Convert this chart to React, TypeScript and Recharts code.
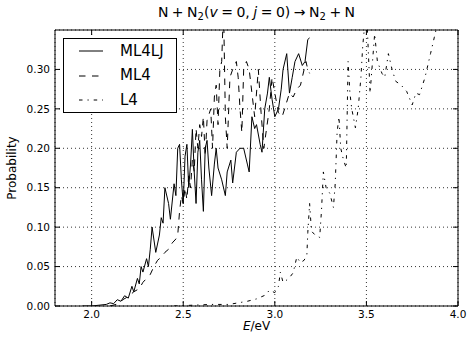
import React from "react";
import { LineChart, Line, XAxis, YAxis, CartesianGrid, Legend } from "recharts";

const xTicks = [2.0, 2.5, 3.0, 3.5, 4.0];
const yTicks = [0, 0.05, 0.1, 0.15, 0.2, 0.25, 0.3];

// ML4LJ (solid)
const ml4ljE = [
  1.95, 2.0, 2.04, 2.08, 2.1, 2.12, 2.14, 2.16, 2.18, 2.2, 2.22, 2.23, 2.25, 2.26, 2.27, 2.28,
  2.3, 2.31, 2.32, 2.33, 2.35, 2.37, 2.38, 2.39, 2.4, 2.42, 2.43, 2.45, 2.46, 2.47, 2.48, 2.49,
  2.5, 2.51, 2.52, 2.53, 2.54, 2.55, 2.56, 2.57, 2.58, 2.59, 2.6, 2.61, 2.62, 2.63, 2.64, 2.655,
  2.67, 2.68, 2.69, 2.71, 2.73, 2.74, 2.76, 2.77, 2.79, 2.81, 2.83, 2.85, 2.86, 2.875, 2.89, 2.9,
  2.92, 2.93, 2.945, 2.96, 2.97, 2.985, 3.0, 3.02, 3.035, 3.045, 3.065, 3.08, 3.095, 3.11, 3.13,
  3.15, 3.165, 3.18, 3.19,
];
const ml4ljP = [
  0, 0, 0.001, 0.002, 0.004, 0.003, 0.008, 0.006, 0.013, 0.01, 0.025, 0.018, 0.035, 0.028, 0.05, 0.043,
  0.06, 0.05, 0.072, 0.1, 0.068, 0.09, 0.112, 0.105, 0.15, 0.13, 0.11, 0.155, 0.14, 0.2, 0.205, 0.16,
  0.13, 0.19, 0.205, 0.15, 0.18, 0.224, 0.17, 0.13, 0.195, 0.21, 0.16, 0.12, 0.2, 0.21, 0.175, 0.14,
  0.18, 0.2, 0.175, 0.16, 0.14, 0.17, 0.185, 0.156, 0.195, 0.2, 0.2, 0.18, 0.17, 0.24, 0.225, 0.23,
  0.205, 0.195, 0.25, 0.27, 0.29, 0.262, 0.24, 0.25, 0.275, 0.3, 0.32, 0.27, 0.29, 0.31, 0.32,
  0.305, 0.31, 0.338, 0.34,
];

// ML4 (dashed)
const ml4E = [
  2.1, 2.15, 2.17, 2.2, 2.23, 2.26, 2.28, 2.3, 2.32, 2.34, 2.36, 2.38, 2.4, 2.42, 2.44, 2.46,
  2.47, 2.48, 2.49, 2.5, 2.51, 2.52, 2.53, 2.54, 2.55, 2.56, 2.57, 2.58, 2.59, 2.6, 2.61, 2.62,
  2.63, 2.65, 2.66, 2.67, 2.68, 2.69, 2.7, 2.71, 2.72, 2.73, 2.74, 2.755, 2.77, 2.79, 2.8, 2.81,
  2.82, 2.83, 2.845, 2.86, 2.875, 2.89, 2.91, 2.925, 2.94, 2.97, 2.985, 3.0, 3.02, 3.04, 3.06,
  3.08, 3.1, 3.12, 3.14, 3.16, 3.17, 3.18, 3.19,
];
const ml4P = [
  0, 0.003, 0.008, 0.012, 0.018, 0.022, 0.03, 0.035, 0.04, 0.05, 0.058, 0.062, 0.068, 0.072, 0.08, 0.085,
  0.09, 0.12, 0.14, 0.13, 0.15, 0.135, 0.165, 0.15, 0.186, 0.17, 0.225, 0.2, 0.23, 0.215, 0.24, 0.19,
  0.235, 0.25, 0.2, 0.265, 0.28, 0.23, 0.3, 0.31, 0.38, 0.24, 0.2, 0.29, 0.3, 0.31, 0.29, 0.25,
  0.22, 0.3, 0.31, 0.3, 0.27, 0.24, 0.3, 0.245, 0.2, 0.25, 0.29, 0.27, 0.245, 0.24, 0.255,
  0.27, 0.265, 0.275, 0.28, 0.3, 0.31, 0.3, 0.295,
];

// L4 (dash-dot)
const l4E = [
  2.45, 2.55, 2.65, 2.75, 2.8, 2.85, 2.9, 2.95, 2.97, 3.0, 3.02, 3.03, 3.045, 3.06, 3.08, 3.1,
  3.12, 3.14, 3.16, 3.175, 3.18, 3.19, 3.2, 3.22, 3.245, 3.255, 3.265, 3.28, 3.3, 3.32, 3.33, 3.34,
  3.35, 3.36, 3.375, 3.39, 3.4, 3.41, 3.42, 3.44, 3.455, 3.47, 3.48, 3.5, 3.52, 3.545, 3.56, 3.585,
  3.6, 3.62, 3.64, 3.66, 3.69, 3.72, 3.75, 3.77, 3.79, 3.82, 3.85, 3.87, 3.89, 3.92,
];
const l4P = [
  0, 0.001, 0.002, 0.002, 0.004, 0.006, 0.009, 0.014, 0.02, 0.017, 0.025, 0.043, 0.03, 0.032, 0.036, 0.042,
  0.062, 0.055, 0.058, 0.065, 0.093, 0.13, 0.095, 0.09, 0.087, 0.122, 0.17, 0.15, 0.143, 0.125, 0.156, 0.22,
  0.24, 0.2, 0.185, 0.175, 0.31, 0.27, 0.25, 0.226, 0.25, 0.29, 0.33, 0.38, 0.27, 0.345, 0.31, 0.295,
  0.29, 0.32, 0.3, 0.285, 0.28, 0.272, 0.255, 0.27, 0.268, 0.29, 0.32, 0.34, 0.36, 0.4,
];

const toPoints = (e: number[], p: number[]) => e.map((x, i) => ({ e: x, p: p[i] }));

const series = [
  { name: "ML4LJ", data: toPoints(ml4ljE, ml4ljP), dash: undefined as string | undefined },
  { name: "ML4", data: toPoints(ml4E, ml4P), dash: "6.5 6.5" },
  { name: "L4", data: toPoints(l4E, l4P), dash: "3.5 5 1.2 5" },
];

const FONT = "'DejaVu Sans', sans-serif";
const TICK_FS = 10.5;

const BottomTick = (props: any) => {
  const { x, y, payload } = props;
  return (
    <g>
      <line x1={x} y1={y - 4} x2={x} y2={y - 9} stroke="#000" />
      <text x={x} y={y} dy="0.75em" textAnchor="middle" fontSize={TICK_FS} fontFamily={FONT} fill="#000">
        {Number(payload.value).toFixed(1)}
      </text>
    </g>
  );
};

const LeftTick = (props: any) => {
  const { x, y, payload } = props;
  return (
    <g>
      <line x1={x + 5} y1={y} x2={x + 10} y2={y} stroke="#000" />
      <text x={x} y={y} dy="0.36em" textAnchor="end" fontSize={TICK_FS} fontFamily={FONT} fill="#000">
        {Number(payload.value).toFixed(2)}
      </text>
    </g>
  );
};

const TopTick = (props: any) => {
  const { x, y } = props;
  return <line x1={x} y1={y} x2={x} y2={y + 5} stroke="#000" />;
};

const RightTick = (props: any) => {
  const { x, y } = props;
  return <line x1={x} y1={y} x2={x - 5} y2={y} stroke="#000" />;
};

const LegendBox = () => (
  <div
    style={{
      border: "1px solid #000",
      background: "#fff",
      width: 114,
      height: 75,
      boxSizing: "border-box",
      fontFamily: FONT,
      fontSize: 15,
      color: "#000",
    }}
  >
    {series.map((s) => (
      <div key={s.name} style={{ height: 24.5, display: "flex", alignItems: "center" }}>
        <svg width={56} height={10} style={{ flex: "none" }}>
          <line x1={15} y1={5} x2={39} y2={5} stroke="#000" strokeWidth={1} strokeDasharray={s.dash} />
        </svg>
        <span style={{ lineHeight: 1 }}>{s.name}</span>
      </div>
    ))}
  </div>
);

// small spacing used around math operators in the title
const sp = "\u2005";

export default function App() {
  return (
    <div style={{ position: "absolute", left: 0, top: 0, width: 468, height: 339, background: "#fff" }}>
      <LineChart width={468} height={339} margin={{ top: 25, right: 5, bottom: 0, left: 0 }}>
        <CartesianGrid stroke="#000" strokeDasharray="1 3" strokeWidth={0.8} />
        <XAxis
          type="number"
          dataKey="e"
          domain={[1.8, 4.0]}
          ticks={xTicks}
          allowDataOverflow
          height={33}
          stroke="#000"
          tickSize={0}
          tickMargin={4}
          tick={<BottomTick />}
        />
        <XAxis
          xAxisId="top"
          orientation="top"
          type="number"
          dataKey="e"
          domain={[1.8, 4.0]}
          ticks={xTicks}
          allowDataOverflow
          height={5}
          stroke="#000"
          tickSize={0}
          tickMargin={0}
          tick={<TopTick />}
        />
        <YAxis
          type="number"
          domain={[0, 0.35]}
          ticks={yTicks}
          allowDataOverflow
          width={55}
          stroke="#000"
          tickSize={0}
          tickMargin={5}
          tick={<LeftTick />}
        />
        <YAxis
          yAxisId="right"
          orientation="right"
          type="number"
          domain={[0, 0.35]}
          ticks={yTicks}
          allowDataOverflow
          width={5}
          stroke="#000"
          tickSize={0}
          tickMargin={0}
          tick={<RightTick />}
        />
        {series.map((s) => (
          <Line
            key={s.name}
            name={s.name}
            data={s.data}
            dataKey="p"
            type="linear"
            stroke="#000"
            strokeWidth={1}
            strokeDasharray={s.dash}
            dot={false}
            activeDot={false}
            isAnimationActive={false}
          />
        ))}
        <Legend
          layout="horizontal"
          verticalAlign="middle"
          align="center"
          wrapperStyle={{ left: 63, top: 38, width: 114, height: 75 }}
          content={<LegendBox />}
        />
      </LineChart>
      <div
        style={{
          position: "absolute",
          left: 0,
          width: 513,
          top: 4,
          textAlign: "center",
          fontFamily: FONT,
          fontSize: 14,
          whiteSpace: "pre",
          color: "#000",
        }}
      >
        {`N${sp}+${sp}N`}
        <sub style={{ fontSize: 10, verticalAlign: "-3px" }}>2</sub>
        {"("}
        <i>v</i>
        {`${sp}=${sp}0,${sp}`}
        <i>j</i>
        {`${sp}=${sp}0)${sp}\u2192${sp}N`}
        <sub style={{ fontSize: 10, verticalAlign: "-3px" }}>2</sub>
        {`${sp}+${sp}N`}
      </div>
      <div
        style={{
          position: "absolute",
          left: 0,
          width: 513,
          top: 319,
          textAlign: "center",
          fontFamily: FONT,
          fontSize: 12,
          color: "#000",
        }}
      >
        <i>E</i>/eV
      </div>
      <div
        style={{
          position: "absolute",
          left: 12,
          top: 168,
          transform: "translate(-50%, -50%) rotate(-90deg)",
          fontFamily: FONT,
          fontSize: 12,
          color: "#000",
          whiteSpace: "nowrap",
        }}
      >
        Probability
      </div>
    </div>
  );
}
